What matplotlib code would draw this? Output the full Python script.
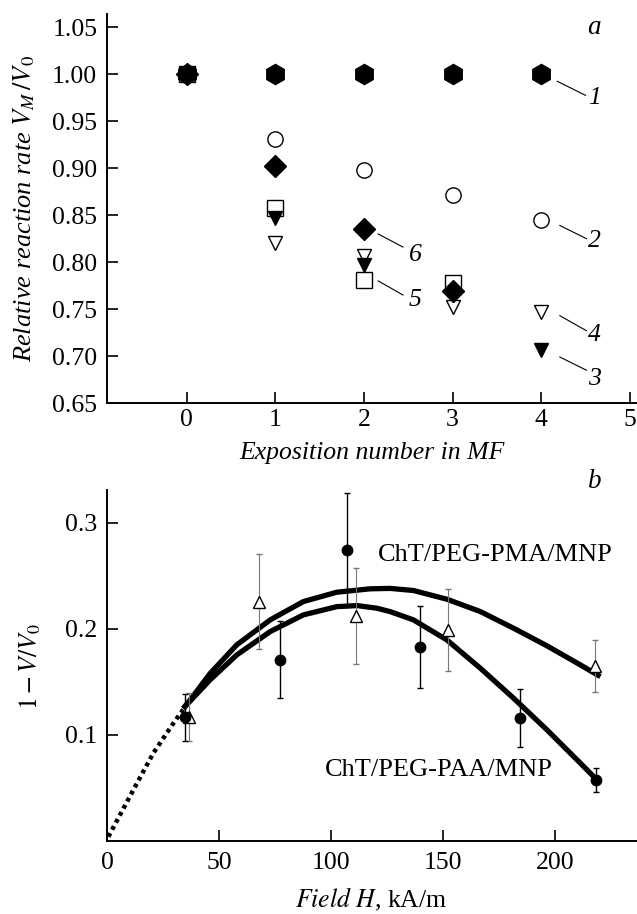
import matplotlib
matplotlib.use("Agg")
import matplotlib.pyplot as plt

plt.rcParams['font.family'] = ['Liberation Serif', 'DejaVu Serif']
plt.rcParams['mathtext.fontset'] = 'stix'

# ---------------- Panel a data ----------------
expo = [0, 1, 2, 3, 4]
s1 = [1.00, 1.00, 1.00, 1.00, 1.00]          # filled hexagon
s2 = [1.00, 0.931, 0.898, 0.871, 0.845]      # open circle
s3 = [1.00, 0.847, 0.797, 0.765, 0.706]      # filled down triangle
s4 = [1.00, 0.820, 0.807, 0.752, 0.747]      # open down triangle
expo56 = [0, 1, 2, 3]
s5 = [1.00, 0.858, 0.781, 0.778]             # open square
s6 = [1.00, 0.902, 0.835, 0.769]             # filled diamond
a_yticks = [0.65, 0.70, 0.75, 0.80, 0.85, 0.90, 0.95, 1.00, 1.05]
a_xticks = [0, 1, 2, 3, 4, 5]

# ---------------- Panel b data ----------------
paa_H = [34.8, 77.2, 107.0, 139.7, 184.4, 218.0]
paa_y = [0.1165, 0.171, 0.2745, 0.183, 0.116, 0.0575]
paa_err = [0.0225, 0.036, 0.054, 0.039, 0.027, 0.011]
pma_H = [36.7, 68.0, 110.9, 151.9, 217.5]
pma_y = [0.117, 0.2258, 0.212, 0.199, 0.165]
pma_err = [0.023, 0.045, 0.045, 0.0385, 0.0245]
# fitted curves
pma_fit_H = [34.0, 37.1, 46.0, 57.9, 72.8, 87.6, 102.5, 117.4, 126.3, 136.7,
             151.6, 166.5, 181.4, 196.3, 211.2, 220.1]
pma_fit_y = [0.125, 0.133, 0.158, 0.185, 0.2085, 0.2258, 0.2346, 0.2378, 0.2382, 0.2362,
             0.228, 0.2164, 0.2006, 0.184, 0.166, 0.155]
paa_fit_H = [34.0, 37.1, 46.0, 57.9, 72.8, 87.6, 102.5, 111.5, 120.4, 126.3, 136.7,
             151.6, 166.5, 181.4, 196.3, 211.2, 218.6]
paa_fit_y = [0.125, 0.132, 0.152, 0.1755, 0.1975, 0.2132, 0.221, 0.222, 0.2195, 0.2163, 0.2085,
             0.1896, 0.163, 0.1346, 0.1047, 0.0733, 0.0575]
dot_H = [0.6, 11.7, 20.7, 29.6, 34.0]
dot_y = [0.004, 0.048, 0.083, 0.111, 0.124]
b_xticks = [0, 50, 100, 150, 200]
b_yticks = [0.1, 0.2, 0.3]

FS = 18.5

fig = plt.figure(figsize=(6.37, 9.14), dpi=100)
axa = fig.add_axes([0.168, 0.559, 0.8305, 0.4256])
axb = fig.add_axes([0.168, 0.0799, 0.8305, 0.384])

for ax in (axa, axb):
    for sp in ('top', 'right'):
        ax.spines[sp].set_visible(False)
    for sp in ('left', 'bottom'):
        ax.spines[sp].set_linewidth(1.4)
    ax.tick_params(direction='in', length=8, width=1.2, labelsize=FS)
    ax.tick_params(axis='y', pad=7)
axa.tick_params(axis='x', pad=4)
axb.tick_params(axis='x', pad=8)

# ---- panel a ----
axa.plot(expo, s2, 'o', ms=11, mfc='white', mec='black', mew=1.0, ls='none', zorder=3)
axa.plot(expo, s4, 'v', ms=10, mfc='white', mec='black', mew=1.0, ls='none', zorder=4)
axa.plot(expo56, s5, 's', ms=11, mfc='white', mec='black', mew=1.0, ls='none', zorder=5)
axa.plot(expo, s3, 'v', ms=10, mfc='black', mec='black', ls='none', zorder=6)
axa.plot(expo56, s6, 'D', ms=11, mfc='black', mec='black', ls='none', zorder=7)
axa.plot(expo, s1, 'h', ms=14.5, mfc='black', mec='black', ls='none', zorder=8)

axa.set_xlim(-0.9, 5.07)
axa.set_ylim(0.65, 1.064)
axa.set_xticks(a_xticks)
axa.set_yticks(a_yticks)
axa.set_yticklabels([f"{v:.2f}" for v in a_yticks])
axa.set_xlabel('Exposition number in MF', fontsize=FS, fontstyle='italic', va='center')
axa.xaxis.set_label_coords(0.5, -0.1285)
axa.set_ylabel(r'Relative reaction rate $V_M\,/V_0$', fontsize=FS + 0.5, fontstyle='italic',
               va='center', ha='center')
axa.yaxis.set_label_coords(-0.157, 0.5)

# curve labels with leader lines
labels_a = [
    ('1', (4.18, 0.9925), (4.50, 0.9775), (4.60, 0.975)),
    ('2', (4.21, 0.839), (4.51, 0.825), (4.60, 0.822)),
    ('4', (4.21, 0.743), (4.51, 0.727), (4.60, 0.722)),
    ('3', (4.21, 0.699), (4.51, 0.685), (4.60, 0.676)),
    ('6', (2.16, 0.830), (2.44, 0.816), (2.58, 0.808)),
    ('5', (2.16, 0.780), (2.44, 0.765), (2.58, 0.760)),
]
for t, p0, p1, pt in labels_a:
    axa.plot([p0[0], p1[0]], [p0[1], p1[1]], color='black', lw=0.8)
    axa.text(pt[0], pt[1], t, fontsize=FS, fontstyle='italic', ha='center', va='center')
axa.text(4.6, 1.05, 'a', fontsize=FS + 1, fontstyle='italic', ha='center', va='center')

# ---- panel b ----
axb.plot(pma_fit_H, pma_fit_y, color='black', lw=3.8, solid_capstyle='butt',
         solid_joinstyle='round', zorder=3)
axb.plot(paa_fit_H, paa_fit_y, color='black', lw=3.8, solid_capstyle='butt',
         solid_joinstyle='round', zorder=3)
axb.plot(dot_H, dot_y, color='black', lw=3.2, ls=(0, (0.9, 0.9)), dash_capstyle='butt', zorder=3)

axb.errorbar(pma_H, pma_y, yerr=pma_err, fmt='^', ms=8, mfc='white', mec='black', mew=1.0,
             ecolor='#777777', elinewidth=0.8, capsize=2.5, capthick=0.8, zorder=4)
axb.errorbar(paa_H, paa_y, yerr=paa_err, fmt='o', ms=7.5, mfc='black', mec='black',
             ecolor='black', elinewidth=1.0, capsize=2.5, capthick=1.0, zorder=5)

axb.text(121, 0.270, 'ChT/PEG-PMA/MNP', fontsize=FS + 0.5, ha='left', va='center')
axb.text(97, 0.067, 'ChT/PEG-PAA/MNP', fontsize=FS + 0.5, ha='left', va='center')

axb.set_xlim(0, 236)
axb.set_ylim(0, 0.331)
axb.set_xticks(b_xticks)
axb.set_yticks(b_yticks)
axb.set_yticklabels(['0.1', '0.2', '0.3'])
axb.set_xlabel(r'$\it{Field\ H}$, kA/m', fontsize=FS, va='center')
axb.xaxis.set_label_coords(0.5, -0.168)
axb.set_ylabel(r'$1 - V/V_0$', fontsize=FS, va='center', ha='center')
axb.yaxis.set_label_coords(-0.1456, 0.496)

fig.text(595 / 637, 1 - 482 / 914, 'b', fontsize=FS + 1, fontstyle='italic', ha='center', va='center')

fig.savefig('out.png', dpi=100)
